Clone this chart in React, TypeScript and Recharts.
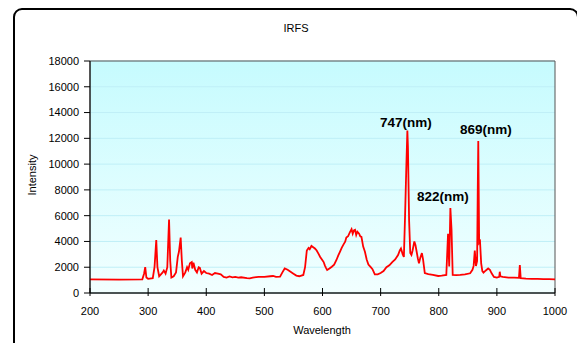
import React from 'react';
import { LineChart, Line, XAxis, YAxis, CartesianGrid, ReferenceDot, ReferenceArea } from 'recharts';

const wavelengths = [
  200, 250, 290, 293, 295, 297, 300, 308, 311, 314, 316, 319, 325, 327, 330, 333, 336, 338, 340, 344,
  348, 351, 353, 356, 358, 360, 364, 367, 369, 372, 375, 376, 378, 381, 384, 387, 389, 392, 396, 400,
  405, 410, 415, 420, 425, 430, 435, 440, 445, 450, 455, 460, 470, 475, 480, 490, 500, 510, 515, 520,
  527, 531, 535, 540, 545, 550, 555, 560, 567, 570, 573, 576, 578, 581, 584, 587, 590, 593, 596, 599,
  602, 604, 606, 608, 612, 616, 620, 624, 627, 630, 633, 636, 639, 641, 644, 647, 650, 652, 654, 656,
  658, 660, 663, 665, 667, 670, 673, 676, 679, 683, 686, 690, 695, 700, 705, 710, 715, 720, 725, 730,
  733, 735, 738, 740, 742, 744, 746, 747, 749, 751, 753, 755, 758, 760, 762, 764, 766, 768, 771, 773,
  776, 782, 790, 799, 805, 813, 816, 818, 820, 822, 824, 830, 837, 845, 854, 858, 860, 862, 864, 866,
  867, 868, 869.5, 871, 873, 875, 877, 881, 885, 888, 891, 895, 900, 904, 905, 906, 910, 920, 930, 938,
  939.5, 941, 950, 960, 970, 980, 990, 1000,
];

const intensities = [
  1050, 1040, 1060, 1500, 2000, 1200, 1100, 1150, 2000, 4100, 2000, 1300, 1600, 1750, 1500, 2000, 5700, 2500, 1200, 1300,
  1600, 2800, 3200, 4300, 2500, 1300, 1600, 2000, 1800, 2300, 2400, 1900, 2350, 1800, 1600, 2000, 1950, 1500, 1700, 1550,
  1500, 1400, 1550, 1500, 1450, 1250, 1200, 1280, 1220, 1250, 1200, 1220, 1150, 1140, 1200, 1250, 1250, 1300, 1320, 1250,
  1270, 1600, 1900, 1800, 1650, 1500, 1350, 1300, 1400, 2000, 3300, 3500, 3400, 3650, 3550, 3450, 3300, 3050, 2800, 2600,
  2400, 2150, 1950, 1780, 1900, 2040, 2200, 2560, 2900, 3200, 3500, 3750, 3980, 4300, 4400, 4700, 4950, 4600, 4850, 4900,
  4500, 4750, 4600, 4400, 4350, 3600, 3200, 2600, 2200, 2000, 1850, 1450, 1450, 1550, 1700, 2000, 2150, 2400, 2600, 2950,
  3300, 3450, 3000, 2800, 5900, 9400, 12600, 11300, 5600, 3100, 2950, 3300, 4000, 3700, 3200, 2700, 2300, 2700, 3100, 2600,
  1550, 1470, 1400, 1320, 1350, 1400, 4600, 2050, 6600, 4900, 1400, 1380, 1400, 1450, 1530, 1800, 2100, 3300, 2100, 2500,
  7500, 11800, 3900, 4000, 2300, 1700, 1580, 1750, 1900, 1800, 1530, 1250, 1200, 1250, 1650, 1300, 1250, 1200, 1200, 1180,
  2170, 1150, 1120, 1100, 1090, 1080, 1070, 1060,
];

const xTicks = [200, 300, 400, 500, 600, 700, 800, 900, 1000];
const yTicks = [0, 2000, 4000, 6000, 8000, 10000, 12000, 14000, 16000, 18000];

const peakLabels = [
  { text: '747(nm)', x: 743.6, y: 13270 },
  { text: '822(nm)', x: 807, y: 7530 },
  { text: '869(nm)', x: 881, y: 12690 },
];

const data = wavelengths.map((w, i) => ({ w, v: intensities[i] }));

const font = '"Liberation Sans", Arial, sans-serif';

const XTick = (props: any) => {
  const { x, y, payload } = props;
  return (
    <g>
      <line x1={x} x2={x} y1={y - 5} y2={y + 3} stroke="#000" />
      <text x={x} y={y + 22} textAnchor="middle" fontSize={11} fontFamily={font} fill="#000">
        {payload.value}
      </text>
    </g>
  );
};

export default function App() {
  return (
    <div style={{ position: 'relative', width: 577, height: 335, overflow: 'hidden', fontFamily: font }}>
      <div
        style={{
          position: 'absolute',
          left: 5,
          top: 0,
          width: 566,
          height: 380,
          boxSizing: 'border-box',
          border: '2px solid #000',
          borderRadius: 9,
          background: '#fff',
        }}
      />
      <div style={{ position: 'absolute', left: 0, top: 0 }}>
        <LineChart width={577} height={335} data={data} margin={{ top: 53, right: 30, bottom: 20, left: 0 }}>
          <defs>
            <linearGradient id="bg" x1="0" y1="0" x2="0" y2="1">
              <stop offset="0%" stopColor="#c6fbfe" />
              <stop offset="100%" stopColor="#f2ffff" />
            </linearGradient>
          </defs>
          <CartesianGrid vertical={false} fill="url(#bg)" stroke="#bfeff7" />
          <ReferenceArea x1={200} x2={1000} y1={0} y2={18000} fill="none" stroke="#555" strokeWidth={1} />
          <XAxis
            dataKey="w"
            type="number"
            domain={[200, 1000]}
            ticks={xTicks}
            interval={0}
            height={30}
            tickSize={0}
            tickMargin={0}
            tickLine={false}
            tick={<XTick />}
            axisLine={{ stroke: '#000' }}
          />
          <YAxis
            type="number"
            domain={[0, 18000]}
            ticks={yTicks}
            interval={0}
            width={82}
            tickSize={6}
            tickMargin={5}
            tickLine={{ stroke: '#000' }}
            axisLine={{ stroke: '#000' }}
            tick={{ fontSize: 11, fill: '#000', fontFamily: font }}
          />
          <Line
            dataKey="v"
            type="linear"
            stroke="#ff0000"
            strokeWidth={1.8}
            dot={false}
            isAnimationActive={false}
          />
          {peakLabels.map((p) => (
            <ReferenceDot
              key={p.text}
              x={p.x}
              y={p.y}
              r={0}
              stroke="none"
              fill="none"
              label={{ value: p.text, position: 'center', fontSize: 13.5, fontWeight: 'bold', fill: '#000', fontFamily: font }}
            />
          ))}
        </LineChart>
      </div>
      <div style={{ position: 'absolute', left: 0, width: 577, top: 14, textAlign: 'center', fontSize: 11, color: '#000', paddingLeft: 0 }}>
        <span style={{ position: 'absolute', left: 288, transform: 'translateX(-50%)' }}>IRFS</span>
      </div>
      <div style={{ position: 'absolute', left: 314, top: 316, fontSize: 11, color: '#000', transform: 'translateX(-50%)' }}>
        Wavelength
      </div>
      <div
        style={{
          position: 'absolute',
          left: 24,
          top: 167,
          fontSize: 11,
          color: '#000',
          transform: 'translate(-50%, -50%) rotate(-90deg)',
          whiteSpace: 'nowrap',
        }}
      >
        Intensity
      </div>
    </div>
  );
}
